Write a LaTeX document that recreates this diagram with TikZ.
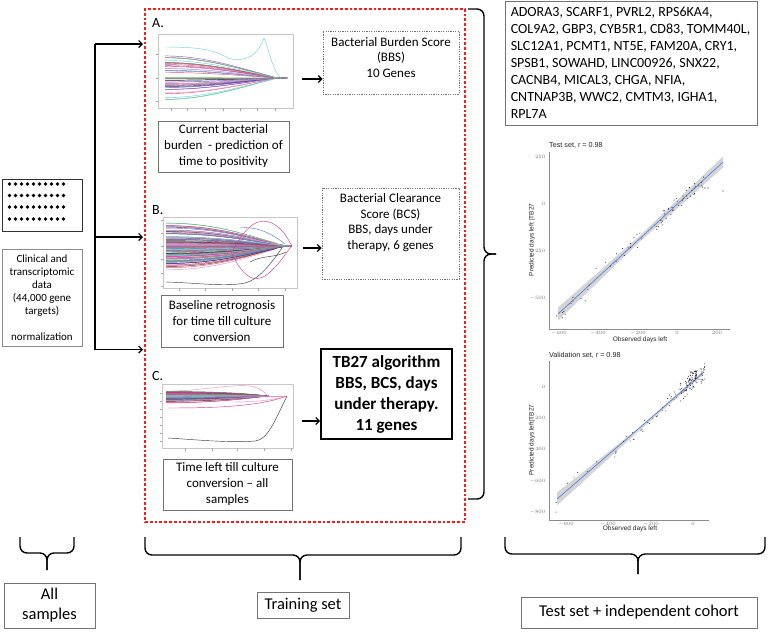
\documentclass[tikz,border=0pt]{standalone}
\usepackage{fontspec}
\setmainfont{Carlito}
\newfontfamily\plotfont{Liberation Sans}
\usetikzlibrary{arrows.meta}
\definecolor{pc0}{HTML}{6FD6D6}
\definecolor{pc1}{HTML}{D23C9E}
\definecolor{pc2}{HTML}{5CB85C}
\definecolor{pc3}{HTML}{8A8A8A}
\definecolor{pc4}{HTML}{5A7BE0}
\definecolor{pc5}{HTML}{8E5CC8}
\definecolor{pc6}{HTML}{EE8FCB}
\definecolor{pc7}{HTML}{3C3C3C}
\definecolor{pc8}{HTML}{E0506E}
\definecolor{redd}{HTML}{FF1A1A}
\definecolor{bandgray}{HTML}{D4D4D4}
\definecolor{regblue}{HTML}{4A78E8}
\begin{document}
\begin{tikzpicture}[x=1pt,y=-1pt,
  arr/.style={line width=1.2pt,-{Straight Barb[length=3.5pt,width=7pt]}},
  capbox/.style={draw=black!55, line width=0.8pt, align=center, font=\fontsize{13}{16}\selectfont, inner sep=0pt},
  dbox/.style={draw=black!55, line width=0.7pt, dash pattern=on 1.2pt off 1.2pt, inner sep=0pt},
  txt/.style={align=center, font=\fontsize{13}{15.6}\selectfont, inner sep=0pt},
  plotfr/.style={draw=black!22, line width=0.6pt, inner sep=0pt},
  crv/.style={line width=0.45pt},
  tck/.style={black!35, line width=0.5pt},
  brc/.style={line width=1.4pt, rounded corners=7pt},
  redbox/.style={draw=redd, line width=2.8pt, dash pattern=on 2.8pt off 2pt, inner sep=0pt},
  axisl/.style={black!45, line width=0.5pt},
  ptlab/.style={font=\plotfont\fontsize{4.8}{5}\selectfont, text=black!55, inner sep=0.5pt},
  axlab/.style={font=\plotfont\fontsize{6.5}{7}\selectfont, text=black!85, inner sep=0pt},
  dot/.style={fill=black!85},
  panel/.style={font=\fontsize{14}{16}\selectfont, inner sep=0pt, anchor=base west},
  lowbox/.style={draw=black!55, line width=0.8pt, align=center, font=\fontsize{16.5}{20}\selectfont, inner sep=0pt}
]
\useasboundingbox (0,0) rectangle (771,633);
\fill[white] (0,0) rectangle (771,633);
\pgfmathsetseed{11}

% ---------- left column ----------
\node[draw=black!80, line width=0.9pt, minimum width=80pt, minimum height=52pt, inner sep=0pt] (dots) at (42,205) {};
\foreach \r/\yy in {1/184,2/195.5,3/207,4/219}{
  \foreach \k in {0,...,9}{
    \fill[black] ({9.5+6*\k},\yy) circle (1.9pt);
  }
}
\node[draw=black!45, line width=0.8pt, minimum width=80pt, minimum height=97pt, inner sep=0pt] (clin) at (42,297.5) {};
\node[align=center, font=\fontsize{11}{13}\selectfont, inner sep=0pt] (clintxt) at (42,298) {Clinical and\\transcriptomic\\data\\(44,000 gene\\targets)\\[13pt]normalization};

\coordinate (sA) at (95,44);
\coordinate (sB) at (95,237);
\coordinate (sC) at (95,349.5);
\coordinate (tA) at (143,44);
\coordinate (tB) at (143,237);
\coordinate (tC) at (143,349.5);
\draw[line width=1.5pt] (sA) -- (sC);
\draw[arr] (sA) -- (tA);
\draw[arr] (sB) -- (tB);
\draw[arr] (sC) -- (tC);

% ---------- training box ----------
\node[redbox, minimum width=320pt, minimum height=513pt] (train) at (305,265.5) {};

% panel A
\node[panel] (labA) at (152,27.5) {A.};
\node[plotfr, minimum width=135pt, minimum height=74pt] (pA) at (225.5,71) {};
\foreach \t in {54,78,101}{ \draw[tck] (155.5,\t) -- (158,\t); }
\foreach \t in {171,187,205,223,240,257,275}{ \draw[tck] (\t,108) -- (\t,110.5); }
\begin{scope}
\clip (158,34) rectangle (293,108);
\foreach \i in {1,...,36}{
  \pgfmathsetmacro\o{-24+48*rnd}
  \pgfmathtruncatemacro\c{mod(\i,9)}
  \draw[crv,color=pc\c] (165,{78+\o}) .. controls (205,{78+\o}) and (240,{78+0.45*\o}) .. (268,{78+0.12*\o}) .. controls (276,78) and (282,{78-0.06*\o}) .. (287,78);
}
\draw[crv,color=pc3] (165,78) -- (287,78);
\draw[crv,color=pc0] (165,47) .. controls (200,47) and (215,50) .. (228,58) .. controls (240,62) and (256,60) .. (264,38) .. controls (268,46) and (272,70) .. (281,78);
\end{scope}
\coordinate (aA) at (302,79);
\node[dbox, minimum width=136pt, minimum height=63pt] (bbs) at (391,62.5) {};
\node[txt] (bbstxt) at (391,57.5) {Bacterial Burden Score\\(BBS)\\10 Genes};
\draw[arr] (aA) -- (aA -| bbs.west);
\node[capbox, minimum width=131pt, minimum height=51pt] (capA) at (223.5,146.5) {Current bacterial\\burden\ \ - prediction of\\time to positivity};

% panel B
\node[panel] (labB) at (152,214) {B.};
\node[plotfr, minimum width=134pt, minimum height=71pt] (pB) at (230,252.5) {};
\foreach \t in {220,233,246,259,273,286}{ \draw[tck] (160.5,\t) -- (163,\t); }
\foreach \t in {179,205,232,258,285}{ \draw[tck] (\t,288) -- (\t,290.5); }
\begin{scope}
\clip (163,217) rectangle (297,288);
\foreach \i in {1,...,110}{
  \pgfmathsetmacro\o{14*(rand+rand)}
  \pgfmathtruncatemacro\c{mod(\i,9)}
  \draw[crv,color=pc\c] (166,{246+\o}) .. controls (215,{246+\o}) and (245,{246+0.5*\o}) .. (274,{246+0.15*\o}) .. controls (281,246) and (286,{246+0.05*\o}) .. (291,246);
}
\draw[crv,color=pc1] (233,250) .. controls (248,222) and (260,218) .. (272,223) .. controls (285,230) and (288,240) .. (292,246);
\draw[crv,color=pc1] (230,249) .. controls (245,285) and (260,283) .. (272,270) .. controls (282,261) and (286,252) .. (292,246);
\draw[crv,color=pc7] (166,282) .. controls (200,283) and (225,287) .. (245,283) .. controls (260,279) and (272,262) .. (282,248);
\draw[crv,color=pc7] (250,262) .. controls (262,255) and (275,258) .. (286,252);
\draw[crv,color=pc4] (240,228) .. controls (255,226) and (270,232) .. (285,244);
\end{scope}
\coordinate (aB) at (303,248);
\node[dbox, minimum width=137pt, minimum height=91pt] (bcs) at (390.5,233.5) {};
\node[txt] (bcstxt) at (390.5,222.5) {Bacterial Clearance\\Score (BCS)\\BBS, days under\\therapy, 6 genes};
\draw[arr] (aB) -- (aB -| bcs.west);
\node[capbox, minimum width=122pt, minimum height=52pt] (capB) at (222,321) {Baseline retrognosis\\for time till culture\\conversion};

% panel C
\node[panel] (labC) at (152,380) {C.};
\node[plotfr, minimum width=131pt, minimum height=64pt] (pC) at (227.5,416) {};
\foreach \t in {393,401,409,417,425,433,441}{ \draw[tck] (159.5,\t) -- (162,\t); }
\foreach \t in {185,212,237,264,291}{ \draw[tck] (\t,448) -- (\t,450.5); }
\begin{scope}
\clip (162,384) rectangle (293,448);
\foreach \i in {1,...,90}{
  \pgfmathsetmacro\o{3.2*(rand+rand)}
  \pgfmathtruncatemacro\c{mod(\i,9)}
  \draw[crv,color=pc\c] (166,{397+\o}) .. controls (210,{397+\o}) and (240,{396+0.6*\o}) .. (268,396);
}
\draw[crv,color=pc6] (168,391) .. controls (200,391) and (230,384) .. (250,386) .. controls (262,388) and (266,394) .. (268,396);
\draw[crv,color=pc6] (268,396) -- (287,396);
\draw[crv,color=pc1] (168,408) .. controls (220,408) and (260,406) .. (287,396);
\draw[crv,color=pc6] (230,402) .. controls (255,402) and (275,400) .. (287,396);
\draw[crv,color=pc7] (168,438) .. controls (200,440) and (230,443) .. (255,441) .. controls (268,440) and (275,420) .. (287,396);
\end{scope}
\coordinate (aC) at (302,421);
\node[draw=black, line width=1.8pt, minimum width=131pt, minimum height=90pt, inner sep=0pt] (tb) at (386.5,394) {};
\node[align=center, font=\bfseries\fontsize{17}{21}\selectfont, inner sep=0pt] (tbtxt) at (386.5,394.5) {TB27 algorithm\\BBS, BCS, days\\under therapy.\\11 genes};
\draw[arr] (aC) -- (aC -| tb.west);
\node[capbox, minimum width=129pt, minimum height=51pt] (capC) at (227.5,484.5) {Time left till culture\\conversion -- all\\samples};

% ---------- right brace ----------
\coordinate (rb1) at (468,9);
\coordinate (rb2) at (468,499);
\coordinate (rbt) at (496,254);
\draw[brc] (rb1) -- (484,9) -- (484,254) -- (rbt);
\draw[brc] (rb2) -- (484,499) -- (484,254) -- (rbt);

% ---------- gene list ----------
\node[draw=black!55, line width=0.8pt, minimum width=252pt, minimum height=124pt, inner sep=0pt] (genes) at (631,63) {};
\node[align=left, font=\fontsize{14}{17}\selectfont, inner sep=0pt] (genetxt) at (630.5,63) {ADORA3, SCARF1, PVRL2, RPS6KA4,\\COL9A2, GBP3, CYB5R1, CD83, TOMM40L,\\SLC12A1, PCMT1, NT5E, FAM20A, CRY1,\\SPSB1, SOWAHD, LINC00926, SNX22,\\CACNB4, MICAL3, CHGA, NFIA,\\CNTNAP3B, WWC2, CMTM3, IGHA1,\\RPL7A};

% ---------- test set scatter ----------
\node[axlab, anchor=west, font=\plotfont\fontsize{7.2}{8}\selectfont] (t1title) at (549,145) {Test set, r = 0.98};
\draw[axisl] (549,152) -- (549,329) -- (730,329);
\foreach \v/\yy in {250/157,0/204,-250/251,-500/298}{
  \node[ptlab, anchor=east] (t1y\v) at (546,\yy) {$\v$};
}
\foreach \v/\xx in {-600/559,-400/598,-200/638,0/677,200/717}{
  \node[ptlab, anchor=north] (t1x\v) at (\xx,330.5) {$\v$};
}
\node[axlab] (t1xl) at (640,340) {Observed days left};
\node[axlab, rotate=90] (t1yl) at (532,240) {Predicted days left |TB27};
\fill[bandgray] (558,307.5) -- (640,235.5) -- (723,156.5) -- (723,167.5) -- (640,241.5) -- (558,320.5) -- cycle;
\draw[regblue, line width=0.6pt] (558,314) -- (723,162);
\foreach \n/\a/\b/\s in {8/556/576/10,6/580/606/12,14/610/650/7,42/655/706/7}{
  \foreach \k in {1,...,\n}{
    \pgfmathsetmacro\px{\a+(\b-\a)*rnd}
    \pgfmathsetmacro\py{314-0.921*(\px-558)+\s*rand}
    \fill[dot] (\px,\py) circle (0.55pt);
  }
}
\fill[dot] (723,191) circle (0.55pt);
\fill[dot] (705,188) circle (0.55pt);
\fill[dot] (708,188) circle (0.55pt);

% ---------- validation scatter ----------
\node[axlab, anchor=west, font=\plotfont\fontsize{7.2}{8}\selectfont] (t2title) at (549,355) {Validation set, r = 0.98};
\draw[axisl] (549,361) -- (549,520) -- (709,520);
\foreach \v/\yy in {0/387,-200/418,-400/449,-600/481,-800/512}{
  \node[ptlab, anchor=east] (t2y\v) at (546,\yy) {$\v$};
}
\foreach \v/\xx in {-600/566,-400/608,-200/651,0/693}{
  \node[ptlab, anchor=north] (t2x\v) at (\xx,521.5) {$\v$};
}
\node[axlab] (t2xl) at (630,529) {Observed days left};
\node[axlab, rotate=90] (t2yl) at (532,440) {Predicted days left|TB27};
\fill[bandgray] (557,492.5) -- (640,427) -- (703,371) -- (703,375) -- (640,430) -- (557,505.5) -- cycle;
\draw[regblue, line width=0.6pt] (557,499) -- (703,373);
\foreach \n/\a/\b/\s in {6/555/600/10,10/610/640/8,22/640/680/7,80/680/705/9}{
  \foreach \k in {1,...,\n}{
    \pgfmathsetmacro\px{\a+(\b-\a)*rnd}
    \pgfmathsetmacro\py{499-0.863*(\px-557)+\s*rand}
    \fill[dot] (\px,\py) circle (0.5pt);
  }
}
\foreach \k in {1,...,30}{
  \pgfmathsetmacro\px{693+4*rand}
  \pgfmathsetmacro\py{376+6*rand}
  \fill[dot] (\px,\py) circle (0.5pt);
}
\fill[dot] (556,512) circle (0.5pt);

% ---------- bottom braces ----------
\draw[brc] (20,537) -- (20,553) -- (47,553) -- (47,570);
\draw[brc] (74,537) -- (74,553) -- (47,553) -- (47,570);
\draw[brc] (145,537) -- (145,555) -- (300,555) -- (300,580);
\draw[brc] (461,537) -- (461,555) -- (300,555) -- (300,580);
\draw[brc] (505,537) -- (505,554) -- (638,554) -- (638,574);
\draw[brc] (765,537) -- (765,554) -- (638,554) -- (638,574);

\node[lowbox, minimum width=91pt, minimum height=45pt] (all) at (49.5,605.5) {All\\samples};
\node[lowbox, minimum width=92pt, minimum height=26pt] (trainlab) at (303,605) {Training set};
\node[lowbox, minimum width=236pt, minimum height=31pt] (testlab) at (639,612.5) {Test set + independent cohort};
\end{tikzpicture}
\end{document}
